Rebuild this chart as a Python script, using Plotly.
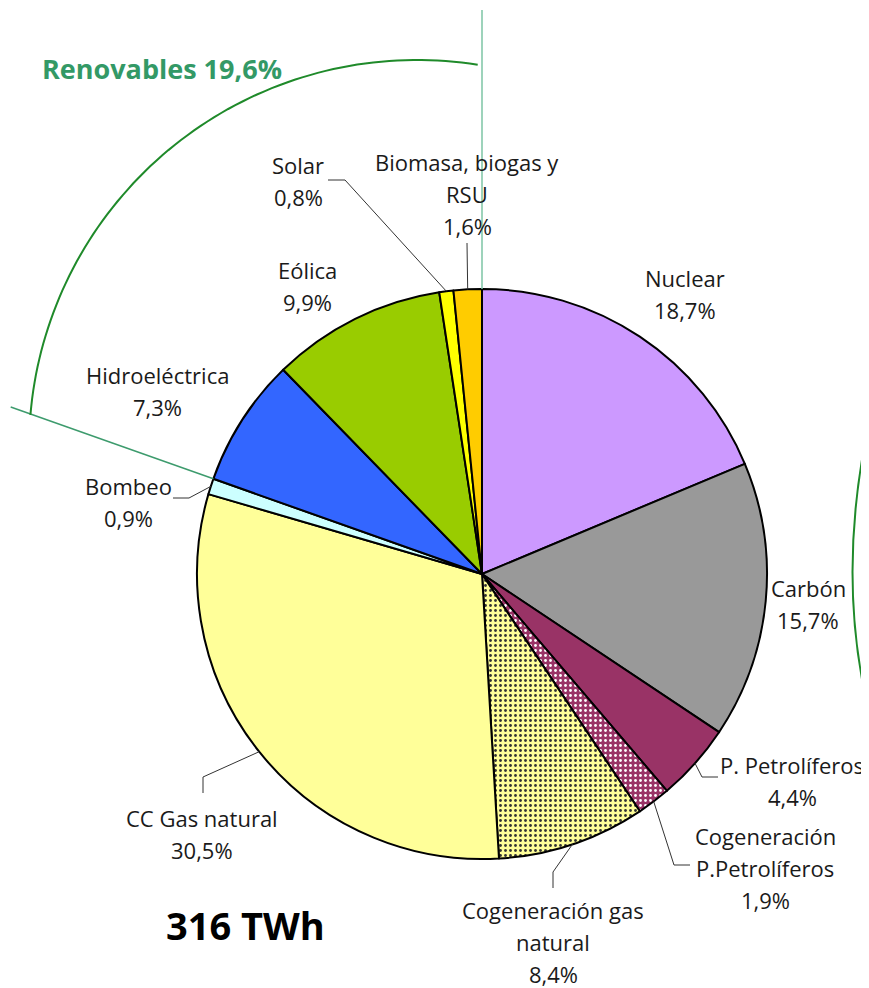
import numpy as np
import plotly.graph_objects as go

# ---------------- data ----------------
categories = ["Nuclear", "Carbón", "P. Petrolíferos", "Cogeneración P.Petrolíferos",
              "Cogeneración gas natural", "CC Gas natural", "Bombeo", "Hidroeléctrica",
              "Eólica", "Solar", "Biomasa, biogas y RSU"]
shares = [18.7, 15.7, 4.4, 1.9, 8.4, 30.5, 0.9, 7.3, 9.9, 0.8, 1.6]
label_lines = [["Nuclear"], ["Carbón"], ["P. Petrolíferos"], ["Cogeneración", "P.Petrolíferos"],
               ["Cogeneración gas", "natural"], ["CC Gas natural"], ["Bombeo"], ["Hidroeléctrica"],
               ["Eólica"], ["Solar"], ["Biomasa, biogas y", "RSU"]]
renewables = ["Hidroeléctrica", "Eólica", "Solar", "Biomasa, biogas y RSU"]
renewable_label = "Renovables 19,6%"
total_label = "316 TWh"

# ---------------- styles ----------------
colors = ["#CC99FF", "#999999", "#993366", "#993366", "#FFFF99", "#FFFF99",
          "#CCFFFF", "#3366FF", "#99CC00", "#FFFF00", "#FFCC00"]
pattern_shapes = ["", "", "", ".", ".", "", "", "", "", "", ""]
pattern_fg = ["#000", "#000", "#000", "#FFFFFF", "#333333", "#000", "#000", "#000", "#000", "#000", "#000"]

# page body has an 8px margin: work in window pixels, figure sits at (8, 8)
OFF = 8
WIN_W, WIN_H = 869, 988
W, H = WIN_W - OFF, WIN_H - OFF
CX, CY, R = 482, 574, 285
LINE_STEP = 32
FONT = "Open Sans"
FS = 22

# label block positions (window px): (center x, first line y)
label_pos = {
    "Nuclear": (685, 278), "Carbón": (808, 588), "P. Petrolíferos": (792, 765),
    "Cogeneración P.Petrolíferos": (765, 836), "Cogeneración gas natural": (553, 910),
    "CC Gas natural": (202, 818), "Bombeo": (128, 486), "Hidroeléctrica": (157, 375),
    "Eólica": (307, 270), "Solar": (298, 165), "Biomasa, biogas y RSU": (467, 162),
}
# leader line elbows (from label towards slice)
leader_elbows = {
    "P. Petrolíferos": [(718, 777), (702, 777)],
    "Cogeneración P.Petrolíferos": [(690, 865), (674, 865)],
    "Cogeneración gas natural": [(553, 888), (553, 872)],
    "CC Gas natural": [(203, 793), (203, 777)],
    "Bombeo": [(173, 498), (189, 498)],
    "Solar": [(328, 180), (345, 180)],
    "Biomasa, biogas y RSU": [(467, 243)],
}

total = sum(shares)
cum = np.concatenate([[0], np.cumsum(shares)])


def pt(theta, r):
    return CX + r * np.sin(theta), CY - r * np.cos(theta)


fcx, fcy = CX - OFF, CY - OFF  # pie center in figure px
fig = go.Figure()
fig.add_trace(go.Scatter(x=[], y=[], showlegend=False, hoverinfo="skip"))
fig.add_trace(go.Pie(
    labels=categories, values=shares, sort=False, direction="clockwise", rotation=0,
    textinfo="none", hoverinfo="label+percent", showlegend=False,
    marker=dict(colors=colors, line=dict(color="black", width=2),
                pattern=dict(shape=pattern_shapes, fgcolor=pattern_fg, bgcolor=colors,
                             size=5, solidity=0.25)),
    domain=dict(x=[(fcx - R) / W, (fcx + R) / W], y=[1 - (fcy + R) / H, 1 - (fcy - R) / H]),
))

shapes = []
annotations = []
for i, cat in enumerate(categories):
    x0, y0 = label_pos[cat]
    lines = label_lines[i] + [f"{shares[i]:.1f}%".replace(".", ",")]
    for k, ln in enumerate(lines):
        annotations.append(dict(x=x0, y=y0 + k * LINE_STEP, xref="x", yref="y", text=ln,
                                showarrow=False, xanchor="center", yanchor="middle",
                                font=dict(family=FONT, size=FS, color="#1a1a1a")))
    if cat in leader_elbows:
        theta = 2 * np.pi * (cum[i] + shares[i] / 2) / total
        ax, ay = pt(theta, R)
        pts = leader_elbows[cat] + [(ax, ay)]
        path = "M " + " L ".join(f"{px:.1f},{py:.1f}" for px, py in pts)
        shapes.append(dict(type="path", path=path, xref="x", yref="y",
                           line=dict(color="#333333", width=1)))

# renewable boundary lines
ren_start = cum[categories.index(renewables[0])]
th = 2 * np.pi * ren_start / total
x1, y1 = pt(th, R)
x2, y2 = pt(th, 500)
shapes.append(dict(type="line", x0=x1, y0=y1, x1=x2, y1=y2, xref="x", yref="y",
                   line=dict(color="#3d9b6d", width=1.5)))
x1, y1 = pt(0, R)
x2, y2 = pt(0, 564)
shapes.append(dict(type="line", x0=x1, y0=y1, x1=x2, y1=y2, xref="x", yref="y",
                   line=dict(color="#7cc4a4", width=1.5)))

# renewable arc bracket
acx, acy, ar = 417, 448, 388
angs = np.linspace(np.deg2rad(-175.1), np.deg2rad(-81), 80)
arc = "M " + " L ".join(f"{acx + ar*np.cos(a):.1f},{acy + ar*np.sin(a):.1f}" for a in angs)
shapes.append(dict(type="path", path=arc, xref="x", yref="y", line=dict(color="#1f8a2a", width=2)))
# partial arc at right edge
shapes.append(dict(type="path", path="M 870,418 Q 835,577 870,716", xref="x", yref="y",
                   line=dict(color="#1f8a2a", width=2)))

annotations.append(dict(x=162, y=68, xref="x", yref="y", text=f"<b>{renewable_label}</b>",
                        showarrow=False, xanchor="center", yanchor="middle",
                        font=dict(family=FONT, size=27, color="#339966")))
annotations.append(dict(x=245, y=925, xref="x", yref="y", text=f"<b>{total_label}</b>",
                        showarrow=False, xanchor="center", yanchor="middle",
                        font=dict(family=FONT, size=38, color="black")))

fig.update_layout(
    width=W, height=H, margin=dict(l=0, r=0, t=0, b=0),
    paper_bgcolor="white", plot_bgcolor="rgba(0,0,0,0)",
    xaxis=dict(range=[OFF, WIN_W], visible=False, fixedrange=True),
    yaxis=dict(range=[WIN_H, OFF], visible=False, fixedrange=True),
    shapes=shapes, annotations=annotations, showlegend=False,
)
fig.write_html("out.html")
